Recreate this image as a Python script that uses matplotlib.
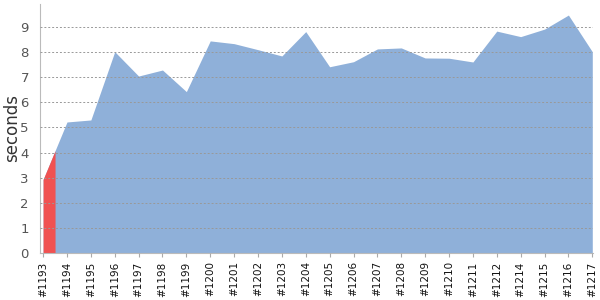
import matplotlib.pyplot as plt
import numpy as np

builds = ['#1193', '#1194', '#1195', '#1196', '#1197', '#1198', '#1199', '#1200',
          '#1201', '#1202', '#1203', '#1204', '#1205', '#1206', '#1207', '#1208',
          '#1209', '#1210', '#1211', '#1212', '#1214', '#1215', '#1216', '#1217']
durations = [2.93, 5.22, 5.30, 8.02, 7.05, 7.29, 6.43, 8.45,
             8.34, 8.10, 7.85, 8.82, 7.42, 7.62, 8.13, 8.17,
             7.77, 7.76, 7.61, 8.84, 8.62, 8.92, 9.48, 8.02]
failed = [True] + [False] * 23

ok_color = '#8fb0d9'
fail_color = '#f05252'

fig = plt.figure(figsize=(6, 3), dpi=100)
ax = fig.add_axes([40 / 600, 1 - 253 / 300, 553 / 600, 249 / 300])

x = np.arange(len(builds))
y = np.array(durations)
n = len(builds)

# whole area in blue, failed builds painted over their half-segments
ax.fill_between(x, 0, y, color=ok_color, linewidth=0, zorder=1)
for i in range(n):
    if not failed[i]:
        continue
    lo = max(i - 0.5, 0)
    hi = min(i + 0.5, n - 1)
    xs = np.array([lo, i, hi])
    ax.fill_between(xs, 0, np.interp(xs, x, y), color=fail_color, linewidth=0, zorder=1.5)

ax.set_xlim(-0.13, n - 1 + 0.03)
ax.set_ylim(0, 9.92)
ax.set_yticks(range(0, 10))
ax.set_xticks(x)
ax.set_xticklabels(builds, rotation=90, fontsize=7.5, color='#111111')
ax.tick_params(axis='y', length=0, pad=8, labelsize=9.5, labelcolor='#555555')
ax.tick_params(axis='x', length=3, color='#aaaaaa', pad=3)

ax.grid(axis='y', color='#999999', linestyle=(0, (2, 2)), linewidth=0.7, zorder=2)
ax.set_axisbelow(False)
for s in ['top', 'right']:
    ax.spines[s].set_visible(False)
for s in ['left', 'bottom']:
    ax.spines[s].set_color('#bbbbbb')
ax.set_ylabel('seconds', fontsize=12, color='#333333')
ax.yaxis.set_label_coords(-0.034, 0.5)

plt.savefig('out.png', dpi=100)
